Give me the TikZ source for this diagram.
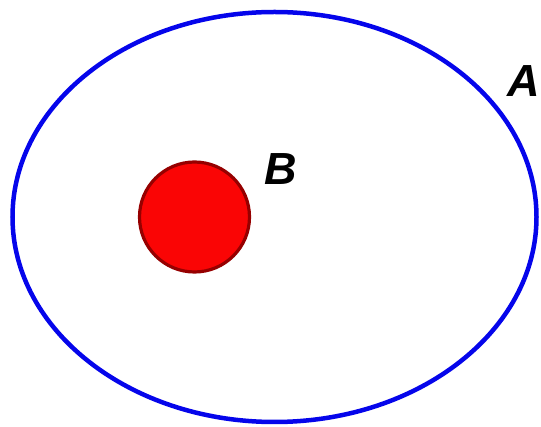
\documentclass[tikz,border=0pt]{standalone}
\usepackage{fontspec}
\setmainfont{Liberation Sans}
\usetikzlibrary{shapes.geometric}
\definecolor{ringblue}{RGB}{5,5,235}
\definecolor{dotred}{RGB}{250,5,5}
\definecolor{dotedge}{RGB}{150,0,0}
\begin{document}
\begin{tikzpicture}[x=1pt,y=-1pt,
  lbl/.style={font=\fontsize{45}{45}\selectfont\bfseries\itshape, inner sep=0pt, anchor=center}]
\useasboundingbox (0,0) rectangle (541,427);
\node[ellipse, draw=ringblue, line width=4.5pt, minimum width=524pt, minimum height=410pt, inner sep=0pt, outer sep=0pt] (setA) at (274.5,217) {};
\node[circle, fill=dotred, draw=dotedge, line width=3.2pt, minimum size=110pt, inner sep=0pt] (setB) at (194.5,217) {};
\node[lbl] (labA) at (524,81) {A};
\node[lbl] (labB) at (281,169) {B};
\end{tikzpicture}
\end{document}
